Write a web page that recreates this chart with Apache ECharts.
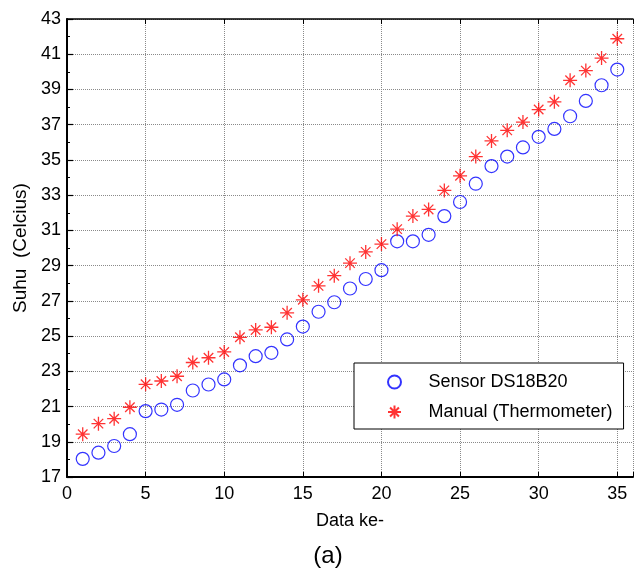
<!DOCTYPE html>
<html>
<head>
<meta charset="utf-8">
<script src="https://cdn.jsdelivr.net/npm/echarts@6/dist/echarts.min.js"></script>
<style>html,body{margin:0;padding:0;background:#fff}#c{width:636px;height:570px}</style>
</head>
<body>
<div id="c"></div>
<script>
var dataIndex = [1,2,3,4,5,6,7,8,9,10,11,12,13,14,15,16,17,18,19,20,21,22,23,24,25,26,27,28,29,30,31,32,33,34,35];
var sensorDS18B20 = [18.03,18.38,18.76,19.43,20.74,20.83,21.10,21.91,22.25,22.54,23.34,23.86,24.05,24.81,25.54,26.38,26.92,27.70,28.24,28.74,30.38,30.38,30.75,31.81,32.61,33.65,34.65,35.19,35.71,36.31,36.76,37.48,38.35,39.24,40.13];
var manualThermometer = [19.43,20.03,20.31,20.96,22.26,22.45,22.72,23.50,23.77,24.10,24.93,25.35,25.50,26.32,27.06,27.85,28.43,29.14,29.78,30.22,31.07,31.81,32.19,33.27,34.10,35.19,36.08,36.68,37.15,37.86,38.30,39.52,40.07,40.78,41.88];
var seriesNames = ['Sensor DS18B20', 'Manual (Thermometer)'];
var xTitle = 'Data ke-';
var yTitle = 'Suhu  (Celcius)';
var caption = '(a)';

function pairs(xs, ys){ return xs.map(function(x,i){ return [x, ys[i]]; }); }

var FONT = 'Liberation Sans, Arial, Helvetica, sans-serif';
var star = 'path://M0,5L10,5M5,0L5,10M1.6,1.6L8.4,8.4M8.4,1.6L1.6,8.4';
var gridLine = {show:true, lineStyle:{color:'#8a8a8a', width:1, type:[1,1]}};

var chart = echarts.init(document.getElementById('c'), null, {renderer:'canvas'});
chart.setOption({
  animation:false,
  backgroundColor:'#fff',
  textStyle:{fontFamily:FONT},
  grid:{left:67, top:19, bottom:93, width:573, containLabel:false},
  xAxis:[{
    type:'value', min:0, max:36, interval:5, position:'bottom',
    axisLine:{show:true, onZero:false, lineStyle:{color:'#000', width:2}},
    axisTick:{show:true, inside:true, length:5, lineStyle:{color:'#000', width:1}},
    axisLabel:{show:true, margin:8, fontSize:18, color:'#000', fontFamily:FONT,
      formatter:function(v){ return v > 35 ? '' : String(v); }},
    splitLine:gridLine,
    name:xTitle, nameLocation:'middle', nameGap:35,
    nameTextStyle:{fontSize:18, color:'#000', fontFamily:FONT}
  },{
    type:'value', min:0, max:36, interval:5, position:'top',
    axisLine:{show:true, onZero:false, lineStyle:{color:'#000', width:1.5}},
    axisTick:{show:true, inside:true, length:5, lineStyle:{color:'#000', width:1}},
    axisLabel:{show:false}, splitLine:{show:false}
  }],
  yAxis:[{
    type:'value', min:17, max:43, interval:2, position:'left',
    axisLine:{show:true, onZero:false, lineStyle:{color:'#000', width:2}},
    axisTick:{show:true, inside:true, length:6, lineStyle:{color:'#000', width:1.2}},
    minorTick:{show:true, splitNumber:2, length:3, lineStyle:{color:'#000', width:1}},
    axisLabel:{show:true, margin:6, fontSize:18, color:'#000', fontFamily:FONT},
    splitLine:gridLine,
    name:yTitle, nameLocation:'middle', nameGap:36, nameRotate:90,
    nameTextStyle:{fontSize:19, color:'#000', fontFamily:FONT}
  }],
  legend:{
    orient:'vertical', left:354, top:363,
    padding:[10,11,8,33], itemGap:12, itemWidth:58, itemHeight:13,
    backgroundColor:'#fff', borderColor:'#000', borderWidth:1, borderRadius:0,
    textStyle:{fontSize:18, color:'#000', fontFamily:FONT},
    data:seriesNames
  },
  graphic:[{
    type:'text', x:328, y:556,
    style:{text:caption, font:'24px ' + FONT, fill:'#000', textAlign:'center', textVerticalAlign:'middle'}
  }],
  series:[{
    name:seriesNames[0], type:'scatter', symbol:'circle', symbolSize:13,
    itemStyle:{color:'transparent', borderColor:'#0000ff', borderWidth:1.2},
    data:pairs(dataIndex, sensorDS18B20), z:3
  },{
    name:seriesNames[1], type:'scatter', symbol:star, symbolSize:14,
    itemStyle:{color:'transparent', borderColor:'#ff0000', borderWidth:1.3},
    data:pairs(dataIndex, manualThermometer), z:4
  }]
});
</script>
</body>
</html>
